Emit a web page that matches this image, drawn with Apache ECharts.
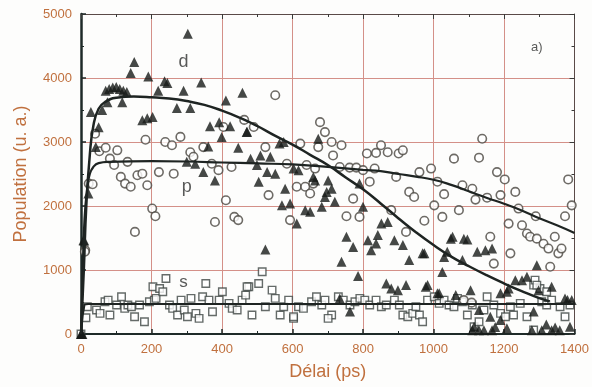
<!DOCTYPE html>
<html><head><meta charset="utf-8">
<script src="https://cdn.jsdelivr.net/npm/echarts@6/dist/echarts.min.js"></script>
<style>html,body{margin:0;padding:0;background:#fff}#c{width:592px;height:387px}</style>
</head><body><div id="c"></div>
<script>
const xTicks = [0,200,400,600,800,1000,1200,1400];
const yTicks = [0,1000,2000,3000,4000,5000];

const dPoints = [[0,0],[2,0],[4,0],[1,0],[7,1465],[9,1460],[21,2195],[28,3470],[42,2920],[50,3230],[60,3500],
[70,3800],[80,3830],[90,3850],[100,3860],[110,3830],[120,3800],[130,3780],[75,3620],[117,3620],[141,4080],[151,4250],
[191,4025],[219,3800],[237,3950],[245,3920],[272,3530],[291,3800],[303,4690],[310,3530],[341,3930],[174,3340],[188,3370],
[203,3390],[366,3245],[392,3310],[423,3245],[470,3155],[399,3080],[361,2930],[446,2910],[411,3650],[458,3770],[471,3160],
[324,2660],[347,2530],[380,2400],[300,2690],[481,2740],[509,2790],[537,2770],[499,2640],[528,2530],[551,2505],[563,2975],
[575,3000],[673,3050],[603,2585],[617,2560],[659,2455],[664,2400],[701,2400],[711,2270],[697,2220],[692,2140],[579,2270],
[504,2380],[570,2010],[593,2040],[636,1935],[650,1910],[683,1990],[720,2065],[790,2350],[800,1990],[612,1725],[852,1725],
[870,1750],[842,1545],[814,1465],[823,1310],[837,1415],[753,1520],[772,1360],[739,1130],[786,905],[523,1320],[889,1465],
[913,1390],[931,1155],[866,790],[880,710],[899,685],[922,765],[734,555],[763,350],[1054,1520],[1086,1490],[974,1260],
[1030,1205],[1039,1285],[1082,1155],[1124,1285],[1147,1310],[1166,1335],[1025,970],[1293,1075],[1232,840],[1251,840],
[1265,895],[1190,635],[1208,660],[983,765],[1105,685],[1016,635],[1063,610],[1129,375],[1161,270],[1190,220],[1166,60],
[1110,60],[1143,60],[1208,90],[1279,60],[1307,60],[1335,60],[1358,60],[1387,115],[1392,530],[1401,685],[1380,530],
[1298,685],[1373,555],[1335,740],[1284,350],[1213,710],[1011,635],[978,740],[969,1260],[1049,1490],[1096,1475],[1115,115],
[1129,60],[1175,110],[1320,150],[1345,100]];

const pPoints = [[12,1310],[11,1285],[22,2350],[33,2340],[40,3130],[52,2855],[70,2910],[103,2870],[82,2740],[94,2640],
[132,2690],[113,2455],[125,2350],[141,2300],[160,2480],[174,2505],[188,2325],[183,3035],[221,2530],[263,2505],[282,3080],
[202,1960],[211,1840],[153,1595],[380,1750],[435,1830],[446,1780],[411,2090],[239,3000],[258,2950],[310,2840],[319,2770],
[347,2920],[371,2660],[390,2560],[427,2610],[404,3235],[463,3345],[551,3730],[490,3235],[523,2920],[584,2660],[622,2975],
[678,3310],[692,3155],[673,2920],[711,3000],[739,2950],[715,2790],[640,2640],[664,2585],[612,2300],[636,2300],[659,2350],
[650,2195],[532,2170],[593,1780],[734,2610],[762,2600],[781,2600],[800,2560],[833,2585],[819,2380],[772,2115],[753,1840],
[790,1830],[811,2820],[837,2830],[851,2950],[870,2840],[901,2820],[913,2870],[894,2455],[931,2220],[945,2140],[880,1935],
[922,1595],[1138,3050],[1058,2740],[1129,2755],[960,2530],[993,2585],[1011,2380],[1030,2185],[1082,2325],[1110,2270],
[1180,2530],[1202,2415],[1119,2100],[1152,2130],[1190,2170],[1232,2220],[1241,1960],[1290,1840],[1382,2415],[1392,2010],
[1373,1840],[1002,2010],[1072,1935],[1025,1830],[974,1770],[1213,1725],[1251,1700],[1265,1570],[1274,1520],[1293,1490],
[1312,1410],[1326,1335],[1344,1520],[1354,1260],[1363,1335],[1161,1520],[1218,1260],[1171,1100],[1331,1050],[1401,970],
[1086,530],[1108,490]];

const sPoints = [[0,0],[14,255],[18,425],[44,374],[54,323],[68,504],[77,530],[82,296],[101,452],[115,582],[124,400],
[133,452],[143,426],[152,270],[166,452],[180,192],[194,504],[204,738],[208,530],[213,556],[223,712],[232,660],[241,868],
[251,452],[260,400],[274,296],[284,530],[293,374],[302,270],[312,556],[326,322],[335,244],[345,582],[354,790],[363,530],
[373,348],[392,530],[401,660],[420,478],[429,400],[443,374],[457,530],[467,608],[476,738],[485,296],[504,790],[514,972],
[523,426],[542,686],[551,556],[565,296],[575,426],[589,530],[603,244],[603,270],[617,426],[631,400],[654,504],[668,582],
[683,452],[692,530],[711,296],[701,244],[730,582],[744,530],[763,452],[777,504],[791,556],[805,530],[819,452],[837,530],
[852,426],[866,452],[889,530],[903,452],[913,296],[927,270],[941,322],[950,426],[960,296],[969,192],[983,530],[1002,582],
[1016,478],[1030,530],[1044,452],[1058,426],[1068,556],[1082,504],[1096,296],[1110,452],[1115,114],[1129,192],[1143,374],
[1152,582],[1171,452],[1190,322],[1204,270],[1218,426],[1227,296],[1246,478],[1265,270],[1284,62],[1284,764],[1302,712],
[1288,842],[1307,504],[1321,452],[1335,530],[1359,426],[1373,270],[1387,452],[1401,452],[1293,764],[1321,660],[471,738]];

const dFit = [[0,0],[8,1000],[15,2000],[25,2800],[35,3250],[50,3520],[70,3630],[100,3690],[150,3710],[200,3700],[250,3680],
[300,3640],[350,3580],[400,3490],[450,3380],[500,3250],[550,3100],[600,2960],[650,2800],[700,2640],[750,2450],[800,2260],
[850,2040],[900,1810],[950,1590],[1000,1390],[1050,1210],[1100,1060],[1150,920],[1200,790],[1250,670],[1300,560],[1330,510]];

const pFit = [[0,0],[5,1000],[10,1800],[18,2300],[25,2500],[35,2610],[50,2670],[80,2690],[200,2700],[300,2695],[400,2680],
[500,2665],[600,2650],[700,2610],[800,2565],[850,2545],[900,2500],[950,2460],[1000,2410],[1050,2330],[1100,2230],[1150,2130],
[1200,2035],[1250,1930],[1300,1810],[1350,1700],[1400,1580]];

const sFit = [[0,0],[5,300],[10,460],[20,470],[400,470],[800,470],[1200,470],[1400,470]];

const labels = [
  {text:'d', x:291, y:4250, size:18},
  {text:'p', x:300, y:2300, size:18},
  {text:'s', x:291, y:815, size:17},
  {text:'a)', x:1293, y:4480, size:13}
];

const TXT = '#c0703e';
const GRIDC = '#d49088';
const FONT = 'Liberation Sans';

const chart = echarts.init(document.getElementById('c'), null, {renderer:'canvas'});
const baseX = {type:'value', min:0, max:1400, interval:200};
const baseY = {type:'value', min:0, max:5000, interval:1000};
chart.setOption({
  backgroundColor:'#fdfdfc',
  animation:false,
  grid:{left:81, right:14, top:14, bottom:53, show:false},
  xAxis:[
    Object.assign({}, baseX, {
      position:'bottom',
      name:'Délai (ps)', nameLocation:'middle', nameGap:29,
      nameTextStyle:{color:TXT, fontSize:18, fontFamily:FONT},
      axisLine:{show:true, onZero:false, lineStyle:{color:'#1e2a28', width:2}},
      axisTick:{show:true, inside:true, length:5, lineStyle:{color:'#1e2a28', width:1.5}},
      minorTick:{show:true, splitNumber:2, length:3, lineStyle:{color:'#1e2a28'}},
      axisLabel:{color:TXT, fontSize:13, fontFamily:FONT, margin:9, formatter:v=>xTicks.includes(v)?String(v):''},
      splitLine:{show:true, lineStyle:{color:GRIDC, width:1}}
    }),
    Object.assign({}, baseX, {
      position:'top',
      axisLine:{show:true, onZero:false, lineStyle:{color:'#5a4a48', width:1}},
      axisTick:{show:true, inside:true, length:5, lineStyle:{color:'#3a3a38'}},
      minorTick:{show:true, splitNumber:2, length:3, lineStyle:{color:'#3a3a38'}},
      axisLabel:{show:false}, splitLine:{show:false}
    })
  ],
  yAxis:[
    Object.assign({}, baseY, {
      position:'left',
      name:'Population (u. a.)', nameLocation:'middle', nameGap:51, nameRotate:90,
      nameTextStyle:{color:TXT, fontSize:18, fontFamily:FONT},
      axisLine:{show:true, onZero:false, lineStyle:{color:'#1e2a28', width:2.5}},
      axisTick:{show:true, inside:true, length:5, lineStyle:{color:'#1e2a28', width:1.5}},
      minorTick:{show:true, splitNumber:2, length:3, lineStyle:{color:'#1e2a28'}},
      axisLabel:{color:TXT, fontSize:13, fontFamily:FONT, margin:9, formatter:v=>yTicks.includes(v)?String(v):''},
      splitLine:{show:true, lineStyle:{color:GRIDC, width:1}}
    }),
    Object.assign({}, baseY, {
      position:'right',
      axisLine:{show:true, onZero:false, lineStyle:{color:'#5a4a48', width:1}},
      axisTick:{show:true, inside:true, length:5, lineStyle:{color:'#3a3a38'}},
      minorTick:{show:true, splitNumber:2, length:3, lineStyle:{color:'#3a3a38'}},
      axisLabel:{show:false}, splitLine:{show:false}
    })
  ],
  series:[
    {type:'scatter', data:sPoints, symbol:'rect', symbolSize:7.5,
     itemStyle:{color:'#ffffff', borderColor:'#3e4644', borderWidth:1.4}},
    {type:'scatter', data:pPoints, symbol:'circle', symbolSize:8.5,
     itemStyle:{color:'#ffffff', borderColor:'#4a4640', borderWidth:1.6}},
    {type:'scatter', data:dPoints, symbol:'triangle', symbolSize:10,
     itemStyle:{color:'#161a18'}},
    {type:'line', data:sFit, showSymbol:false, smooth:false, lineStyle:{color:'#1e2422', width:2}},
    {type:'line', data:pFit, showSymbol:false, smooth:true, lineStyle:{color:'#1e2422', width:2.2}},
    {type:'line', data:dFit, showSymbol:false, smooth:true, lineStyle:{color:'#1e2422', width:2.5}},
    {type:'scatter', data:labels.map(l=>({value:[l.x,l.y], label:{fontSize:l.size}, name:l.text})),
     symbolSize:0, silent:true,
     label:{show:true, position:'inside', formatter:p=>p.name, color:'#2e302e', fontFamily:FONT}}
  ]
});
</script></body></html>
